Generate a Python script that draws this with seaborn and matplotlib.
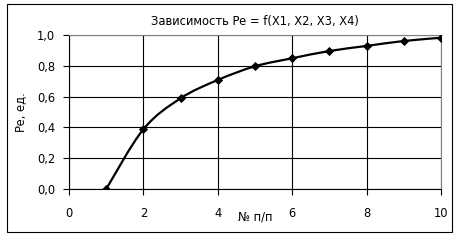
import matplotlib
matplotlib.use("Agg")
import matplotlib.pyplot as plt
import seaborn as sns
import numpy as np
import pandas as pd
from matplotlib.path import Path
from matplotlib.patches import PathPatch, Rectangle
from matplotlib.ticker import FuncFormatter, MultipleLocator

# data
x_vals = [1, 2, 3, 4, 5, 6, 7, 8, 9, 10]
pe_vals = [0.0, 0.388, 0.589, 0.708, 0.797, 0.849, 0.896, 0.929, 0.961, 0.982]
title_text = "Зависимость Pe = f(X1, X2, X3, X4)"
x_label = "№ п/п"
y_label = "Pe, ед."

sns.set_theme(style="white")
plt.rcParams['font.family'] = ['DejaVu Sans']

fs = 8.3

fig = plt.figure(figsize=(4.58, 2.40), dpi=100)
ax = fig.add_axes([69/458, 1-189/240, (441-69)/458, (189-35)/240])

df = pd.DataFrame({"x": x_vals, "pe": pe_vals})

# smoothed curve (Catmull-Rom as cubic Bezier) built from data
pts = np.column_stack([df["x"].values, df["pe"].values]).astype(float)
n = len(pts)
verts = [tuple(pts[0])]
codes = [Path.MOVETO]
for i in range(n - 1):
    p0 = pts[i - 1] if i > 0 else pts[i]
    p1 = pts[i]
    p2 = pts[i + 1]
    p3 = pts[i + 2] if i + 2 < n else pts[i + 1]
    c1 = p1 + (p2 - p0) / 6.0
    c2 = p2 - (p3 - p1) / 6.0
    verts += [tuple(c1), tuple(c2), tuple(p2)]
    codes += [Path.CURVE4] * 3
ax.add_patch(PathPatch(Path(verts, codes), facecolor='none', edgecolor='black', lw=1.6, zorder=3))

sns.scatterplot(data=df, x="x", y="pe", ax=ax, marker='D', color='black', s=22,
                edgecolor='black', linewidth=0, zorder=4, legend=False)

ax.set_xlim(0, 10)
ax.set_ylim(0, 1.0)
ax.xaxis.set_major_locator(MultipleLocator(2))
ax.yaxis.set_major_locator(MultipleLocator(0.2))
ax.yaxis.set_major_formatter(FuncFormatter(lambda v, p: f"{v:.1f}".replace('.', ',')))
ax.xaxis.set_major_formatter(FuncFormatter(lambda v, p: f"{int(round(v))}"))
ax.grid(True, color='black', lw=0.8)
ax.set_axisbelow(True)
for s in ['top', 'right']:
    ax.spines[s].set_color('#808080')
    ax.spines[s].set_linewidth(0.8)
for s in ['left', 'bottom']:
    ax.spines[s].set_color('black')
    ax.spines[s].set_linewidth(0.8)
ax.tick_params(axis='both', direction='out', length=4, width=0.8, color='black',
               labelsize=fs, labelcolor='black', pad=4, bottom=True, left=True)
ax.tick_params(axis='x', pad=9)
ax.tick_params(axis='y', pad=6)
ax.set_xlabel(x_label, fontsize=fs, color='black', labelpad=-7)
ax.set_ylabel(y_label, fontsize=fs, color='black', labelpad=7)
ax.set_title(title_text, fontsize=fs, color='black', pad=7)

fig.patches.append(Rectangle((7/458, 1-232/240), (452-7)/458, (232-4)/240,
                             transform=fig.transFigure, fill=False, edgecolor='black', lw=0.8))

fig.savefig("out.png", dpi=100)
